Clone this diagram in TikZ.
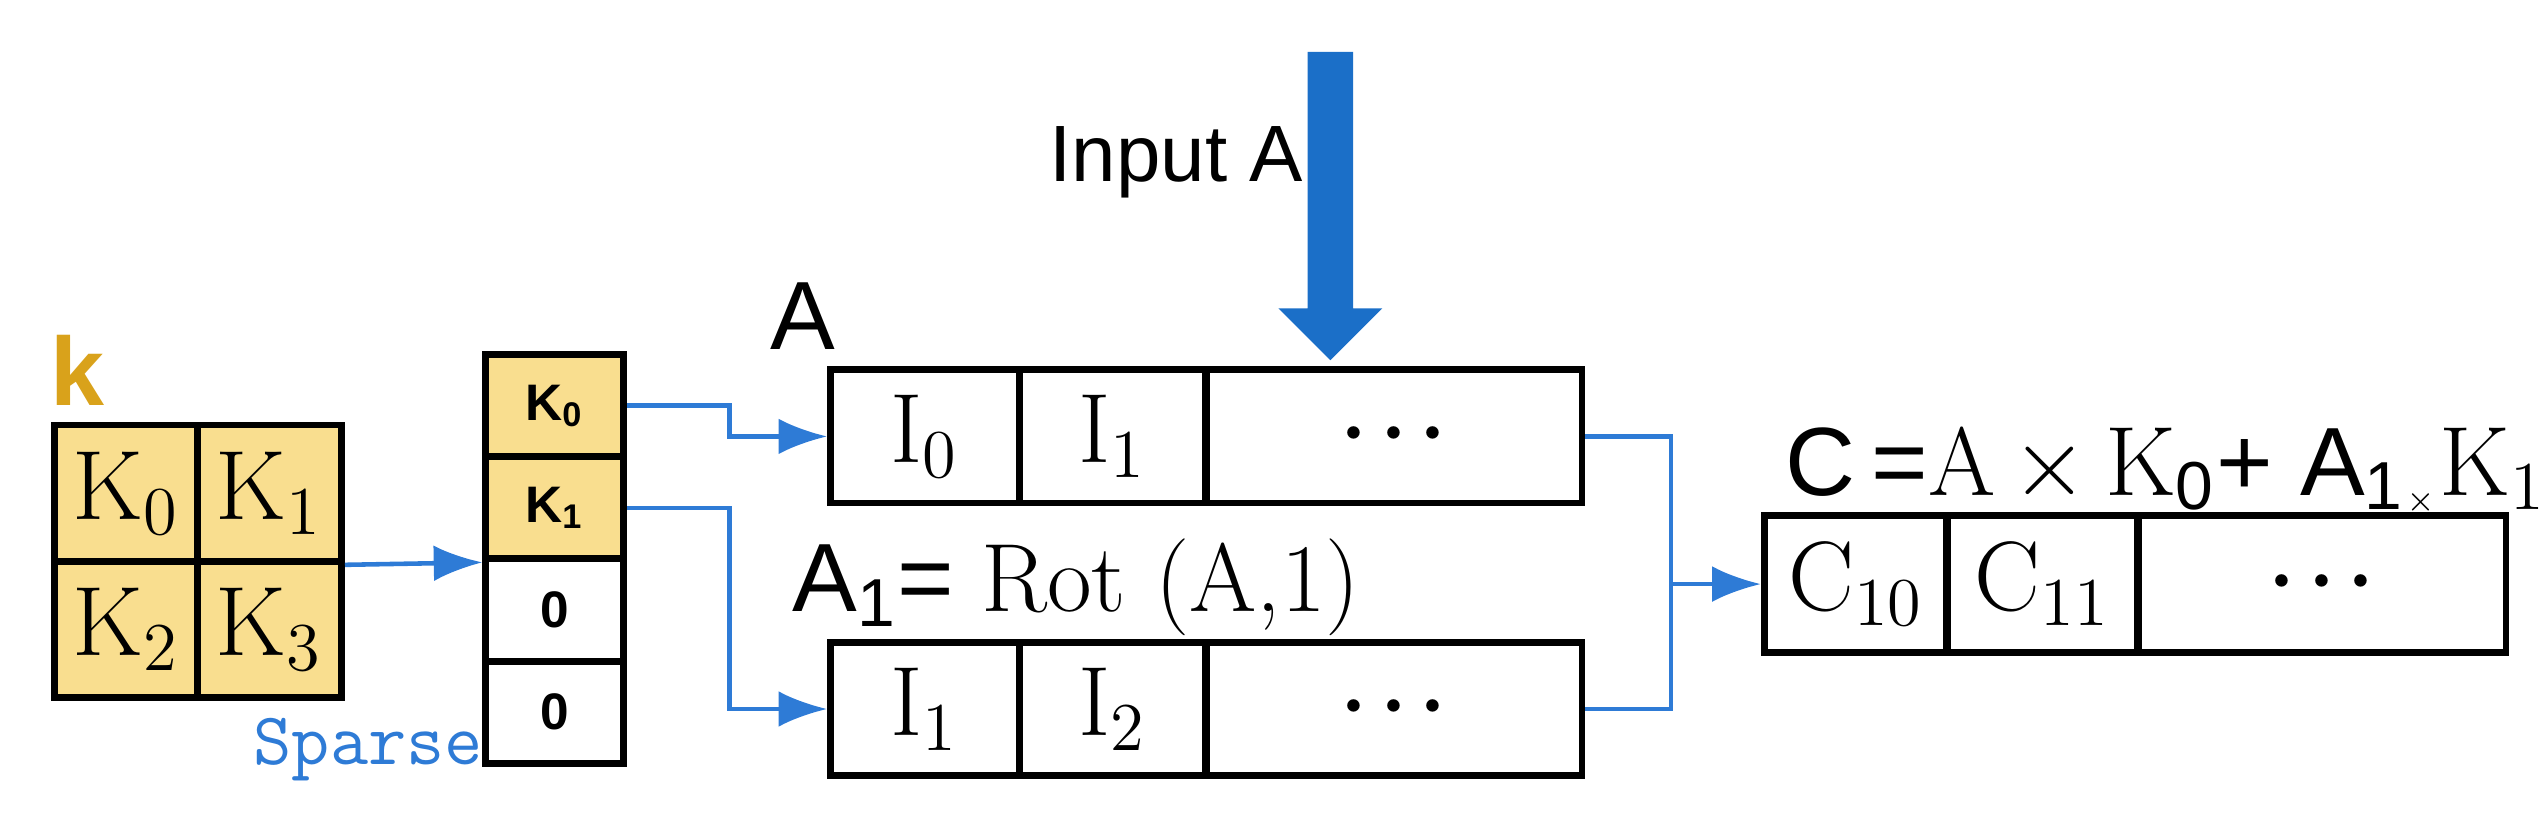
\documentclass[tikz,border=0pt]{standalone}
\usepackage[no-math]{fontspec}
\setmainfont{Liberation Sans}
\newfontfamily\serif{Latin Modern Roman}
\usepackage{tikz}
\usetikzlibrary{arrows.meta,positioning}
\definecolor{cellY}{HTML}{F9DE8F}
\definecolor{lineB}{HTML}{2E7BD6}
\definecolor{arrB}{HTML}{1B6FC8}
\definecolor{kOr}{HTML}{D9A21B}
\tikzset{
  cell/.style={draw,line width=1.2pt,minimum height=#1,inner sep=0pt},
  link/.style={draw=lineB,line width=0.8pt,-{Latex[length=3mm,width=2.2mm]}},
  rm/.style={font=\fontsize{17}{19}\selectfont},
  dots/.style={font=\bfseries\fontsize{20}{20}\selectfont},
}
\begin{document}
\begin{tikzpicture}[x=0.01cm,y=-0.01cm]
  \useasboundingbox (0,0) rectangle (1568,506);
  % kernel grid
  \node[kOr,font=\bfseries\fontsize{17}{19}\selectfont] (klab) at (48,228) {k};
  \node[cell=0.84cm,fill=cellY,minimum width=0.89cm,rm] (k0) at (78,304) {$\mathrm{K}_0$};
  \node[cell=0.84cm,fill=cellY,minimum width=0.89cm,rm] (k1) at (166,304) {$\mathrm{K}_1$};
  \node[cell=0.84cm,fill=cellY,minimum width=0.89cm,rm] (k2) at (78,388) {$\mathrm{K}_2$};
  \node[cell=0.84cm,fill=cellY,minimum width=0.89cm,rm] (k3) at (166,388) {$\mathrm{K}_3$};
  \node[lineB,font=\ttfamily\fontsize{13}{15}\selectfont] (sp) at (227,462) {Sparse};
  % sparse column
  \node[cell=0.63cm,fill=cellY,minimum width=0.85cm,font=\bfseries\small] (s0) at (342,250) {K\textsubscript{0}};
  \node[cell=0.63cm,fill=cellY,minimum width=0.85cm,font=\bfseries\small] (s1) at (342,313) {K\textsubscript{1}};
  \node[cell=0.63cm,minimum width=0.85cm,font=\bfseries\small] (s2) at (342,376) {0};
  \node[cell=0.63cm,minimum width=0.85cm,font=\bfseries\small] (s3) at (342,439) {0};
  \draw[link] (k1.south east) -- (s2.west |- s1.south);
  % rows A and A1
  \node[font=\fontsize{17}{19}\selectfont] (alab) at (495,195) {A};
  \node[cell=0.82cm,minimum width=1.16cm,rm] (a0) at (570,269) {$\mathrm{I}_0$};
  \node[cell=0.82cm,minimum width=1.15cm,rm] (a1) at (686,269) {$\mathrm{I}_1$};
  \node[cell=0.82cm,minimum width=2.32cm,dots] (a2) at (859,269) {$\cdot\!\cdot\!\cdot$};
  \node[font=\fontsize{17}{19}\selectfont,anchor=west] (a1lab) at (476,362) {A\textsubscript{1}= {\serif Rot (A,1)}};
  \node[cell=0.82cm,minimum width=1.16cm,rm] (b0) at (570,437) {$\mathrm{I}_1$};
  \node[cell=0.82cm,minimum width=1.15cm,rm] (b1) at (686,437) {$\mathrm{I}_2$};
  \node[cell=0.82cm,minimum width=2.32cm,dots] (b2) at (859,437) {$\cdot\!\cdot\!\cdot$};
  \draw[link] (s0.east) -- ++(63,0) |- (a0.west);
  \draw[link] (s1.east) -- ++(63,0) |- (b0.west);
  % input arrow
  \node[font=\fontsize{14}{16}\selectfont] (inp) at (725,100) {Input A};
  \fill[arrB] (806,32) -- (834,32) -- (834,190) -- (852,190) -- (820,222) -- (788,190) -- (806,190) -- cycle;
  % result row
  \node[font=\fontsize{17}{19}\selectfont,anchor=west] (clab) at (1088,290) {C\,={\serif A}$\,\times\,$$\mathrm{K}$\textsubscript{0}+ A\textsubscript{1}\textsubscript{\tiny$\times$}$\mathrm{K}_1$};
  \node[cell=0.84cm,minimum width=1.13cm,rm] (c0) at (1144,360) {$\mathrm{C}_{10}$};
  \node[cell=0.84cm,minimum width=1.18cm,rm] (c1) at (1259,360) {$\mathrm{C}_{11}$};
  \node[cell=0.84cm,minimum width=2.27cm,dots] (c2) at (1431,360) {$\cdot\!\cdot\!\cdot$};
  \coordinate (join) at (1030,360);
  \draw[lineB,line width=0.8pt] (a2.east) -- (join |- a2.east) -- (join |- b2.east) -- (b2.east);
  \draw[link] (join) -- (c0.west);
\end{tikzpicture}
\end{document}
